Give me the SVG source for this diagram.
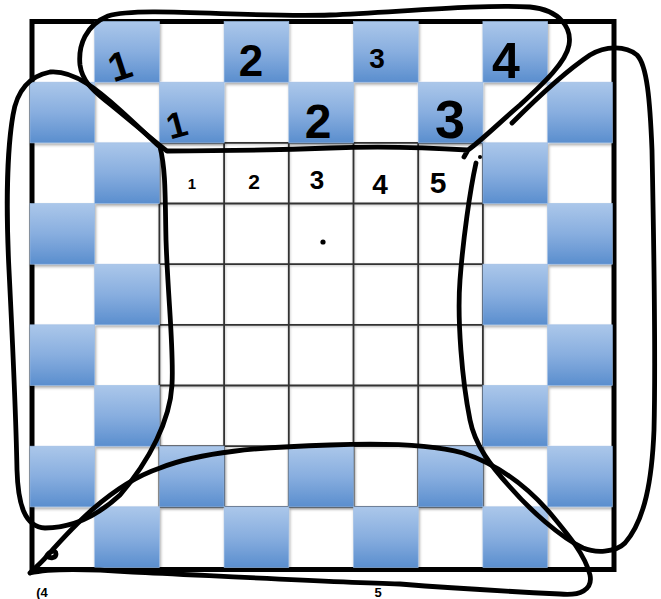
<svg xmlns="http://www.w3.org/2000/svg" width="661" height="599" viewBox="0 0 661 599">
<defs>
<linearGradient id="blue" x1="0" y1="0" x2="0" y2="1">
<stop offset="0" stop-color="#ABC7EA"/>
<stop offset="0.5" stop-color="#88AEDF"/>
<stop offset="1" stop-color="#5A8ECE"/>
</linearGradient>
<filter id="sh" x="-10%" y="-10%" width="130%" height="130%">
<feDropShadow dx="1" dy="2" stdDeviation="1.5" flood-color="#000" flood-opacity="0.35"/>
</filter>
<filter id="gsh" x="-5%" y="-5%" width="110%" height="110%">
<feDropShadow dx="0.5" dy="1" stdDeviation="1" flood-color="#000" flood-opacity="0.25"/>
</filter>
</defs>
<style>
.b{fill:url(#blue);stroke:#9CBCE4;stroke-width:0.6}
.g{stroke:#333;stroke-width:1.8;fill:none}
.lbl{font-family:"Liberation Sans",Arial,sans-serif;font-weight:700;fill:#000;text-anchor:middle}
.loop{fill:none;stroke:#000;stroke-width:4.8;stroke-linecap:round;stroke-linejoin:round}
</style>
<rect x="0" y="0" width="661" height="599" fill="#fff"/>
<g id="board">
<rect x="32" y="21.5" width="582" height="548" fill="#fff" stroke="#000" stroke-width="5"/>
</g>
<g id="inner-grid" filter="url(#gsh)">
<path class="g" d="M159.4,142.83V506.83M224.1,142.83V506.83M288.8,142.83V506.83M353.5,142.83V506.83M418.2,142.83V506.83M482.9,142.83V506.83M159.4,142.83H482.9M159.4,203.5H482.9M159.4,264.17H482.9M159.4,324.83H482.9M159.4,385.5H482.9M159.4,446.17H482.9M159.4,506.83H482.9"/>
</g>
<g id="blue-cells" filter="url(#sh)">
<rect class="b" x="94.7" y="21.5" width="64.7" height="60.67"/>
<rect class="b" x="224.1" y="21.5" width="64.7" height="60.67"/>
<rect class="b" x="353.5" y="21.5" width="64.7" height="60.67"/>
<rect class="b" x="482.9" y="21.5" width="64.7" height="60.67"/>
<rect class="b" x="30" y="82.17" width="64.7" height="60.67"/>
<rect class="b" x="159.4" y="82.17" width="64.7" height="60.67"/>
<rect class="b" x="288.8" y="82.17" width="64.7" height="60.67"/>
<rect class="b" x="418.2" y="82.17" width="64.7" height="60.67"/>
<rect class="b" x="547.6" y="82.17" width="64.7" height="60.67"/>
<rect class="b" x="94.7" y="142.83" width="64.7" height="60.67"/>
<rect class="b" x="482.9" y="142.83" width="64.7" height="60.67"/>
<rect class="b" x="30" y="203.5" width="64.7" height="60.67"/>
<rect class="b" x="547.6" y="203.5" width="64.7" height="60.67"/>
<rect class="b" x="94.7" y="264.17" width="64.7" height="60.67"/>
<rect class="b" x="482.9" y="264.17" width="64.7" height="60.67"/>
<rect class="b" x="30" y="324.83" width="64.7" height="60.67"/>
<rect class="b" x="547.6" y="324.83" width="64.7" height="60.67"/>
<rect class="b" x="94.7" y="385.5" width="64.7" height="60.67"/>
<rect class="b" x="482.9" y="385.5" width="64.7" height="60.67"/>
<rect class="b" x="30" y="446.17" width="64.7" height="60.67"/>
<rect class="b" x="159.4" y="446.17" width="64.7" height="60.67"/>
<rect class="b" x="288.8" y="446.17" width="64.7" height="60.67"/>
<rect class="b" x="418.2" y="446.17" width="64.7" height="60.67"/>
<rect class="b" x="547.6" y="446.17" width="64.7" height="60.67"/>
<rect class="b" x="94.7" y="506.83" width="64.7" height="60.67"/>
<rect class="b" x="224.1" y="506.83" width="64.7" height="60.67"/>
<rect class="b" x="353.5" y="506.83" width="64.7" height="60.67"/>
<rect class="b" x="482.9" y="506.83" width="64.7" height="60.67"/>
</g>
<g id="labels">
<text class="lbl" font-size="40" transform="translate(124,79) rotate(-18)" x="0" y="0">1</text>
<text class="lbl" font-size="44" x="251" y="76">2</text>
<text class="lbl" font-size="28" x="377" y="68">3</text>
<text class="lbl" font-size="50" x="506" y="78">4</text>
<text class="lbl" font-size="36" transform="translate(180,137) rotate(-15)" x="0" y="0">1</text>
<text class="lbl" font-size="48" x="318" y="138">2</text>
<text class="lbl" font-size="54" x="450" y="138">3</text>
<text class="lbl" font-size="15" x="192" y="189">1</text>
<text class="lbl" font-size="21" x="254" y="189">2</text>
<text class="lbl" font-size="26" x="317" y="189">3</text>
<text class="lbl" font-size="28" x="380" y="194">4</text>
<text class="lbl" font-size="30" x="438" y="193">5</text>
<circle cx="323" cy="242" r="2.6" fill="#000"/>
<text class="lbl" font-size="13" x="42" y="597">(4</text>
<text class="lbl" font-size="13" x="378" y="597">5</text>
</g>
<g id="connectors">
<path id="loop-top" class="loop" d="M468,150 C420,147 380,146 330,148 S220,151 167,151 C150,138 128,118 105,100 C92,90 82,80 80,65 C78,45 86,25 108,16 C140,6 250,18 330,15 C400,12 480,4 530,7 C560,10 572,28 569,45 C566,62 545,82 520,105 C500,122 482,140 468,150 l-4,7"/>
<path id="loop-left" class="loop" d="M160,147 C166,170 165,200 166,240 C168,300 174,350 172,385 C170,420 150,460 120,495 C95,518 70,528 45,528 C25,527 18,505 17,470 C16,420 12,330 9,270 C6,210 7,150 13,115 C17,90 30,76 50,72 C75,70 100,92 120,110 C140,128 152,140 160,147 Z"/>
<path id="loop-right" class="loop" d="M512,123 C530,105 560,75 590,55 C605,46 625,45 637,55 C647,65 650,100 652,150 C654,250 656,350 654,430 C652,480 645,520 625,543 C615,553 595,553 583,548 C560,537 530,510 510,487 C490,465 475,445 470,420 C462,380 457,320 460,280 C463,240 470,190 476,163"/>
<circle cx="480" cy="157" r="2" fill="#000"/>
<path id="loop-bottom" class="loop" d="M30,573 C36,567 42,562 46,557 C49,551 56,549 56,554 C56,558 50,559 47,556 C70,530 110,485 160,468 C200,452 260,447 330,445 C380,443 430,444 463,453 C500,465 530,490 550,513 C570,537 585,555 590,575 C593,590 580,596 560,594 C520,592 450,588 400,584 C330,582 200,575 133,572 C90,569 50,568 30,573"/>
</g>
</svg>
